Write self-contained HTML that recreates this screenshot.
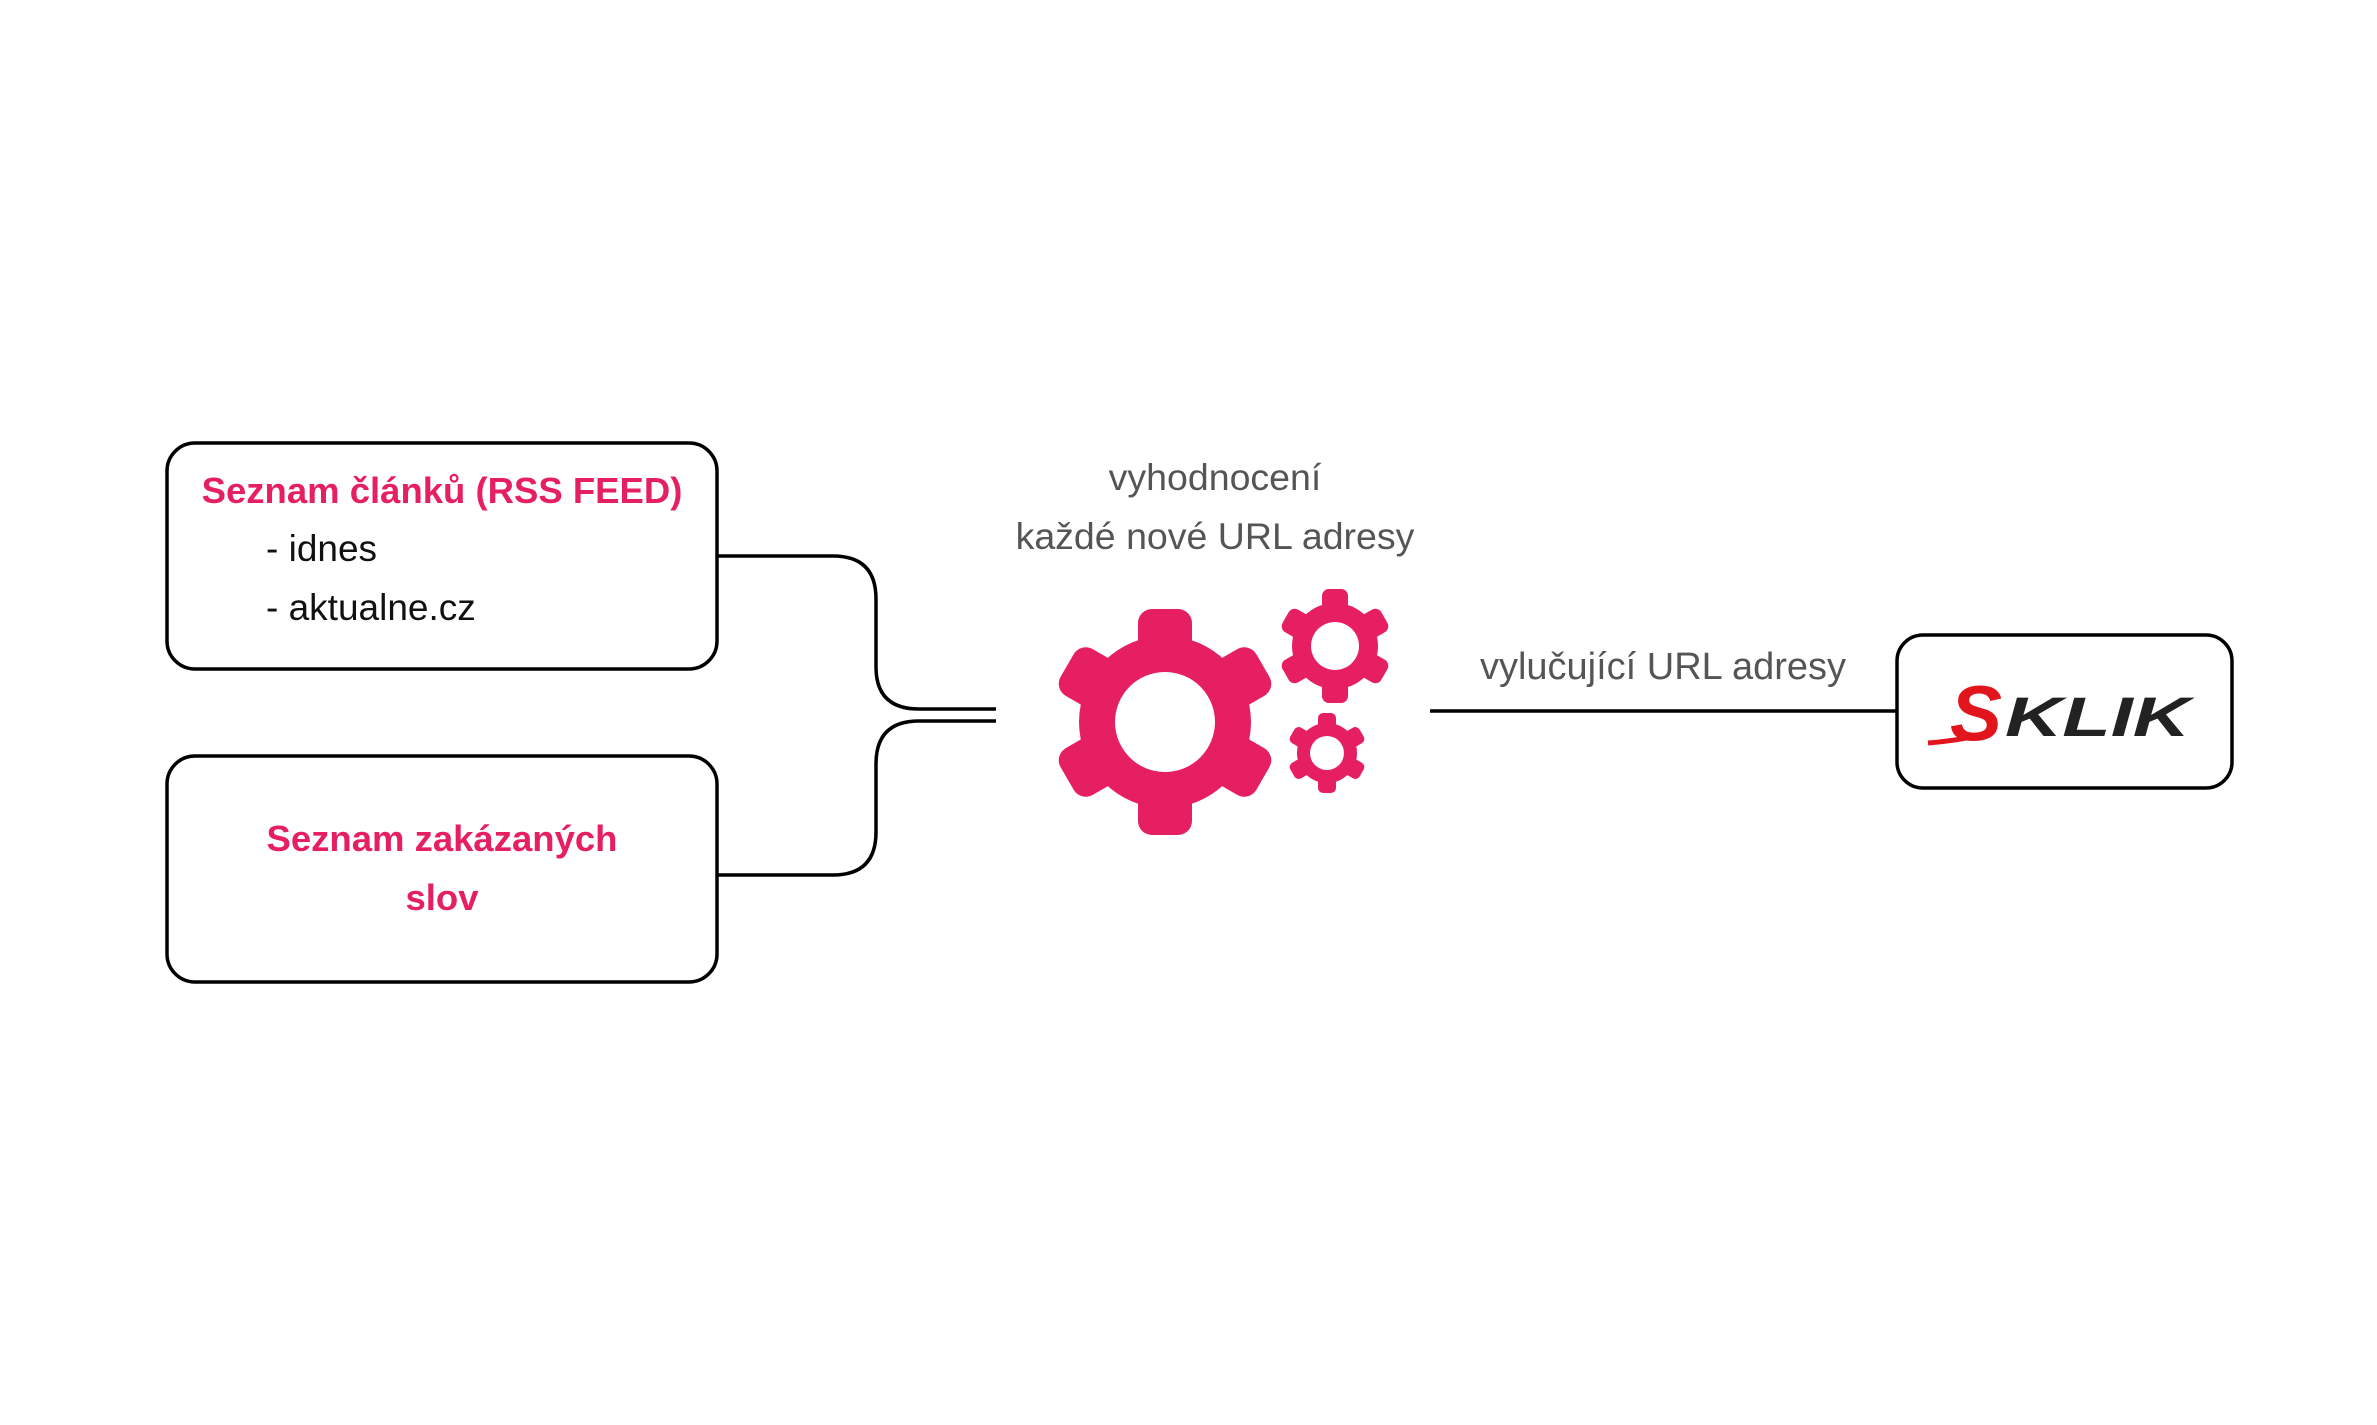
<!DOCTYPE html>
<html><head><meta charset="utf-8"><style>
html,body{margin:0;padding:0;background:#fff}
body{width:2377px;height:1425px;position:relative;overflow:hidden;font-family:"Liberation Sans",sans-serif}
</style></head><body>
<svg width="2377" height="1425" style="position:absolute;left:0;top:0">
<g fill="none" stroke="#000" stroke-width="3.5">
<rect x="167" y="443" width="550" height="226" rx="28"/>
<rect x="167" y="756" width="550" height="226" rx="28"/>
<path d="M717 556 H833 Q876 556 876 599 V667 Q876 709 919 709 H996"/>
<path d="M717 875 H833 Q876 875 876 832 V764 Q876 721 919 721 H996"/>
<path d="M1430 711 H1897"/>
<rect x="1897" y="635" width="335" height="153" rx="26"/>
</g>
<g fill="#e61e62">
<g transform="translate(1165,722)">
<circle r="86"/>
<g transform="rotate(0)"><rect x="-27" y="-113" width="54" height="50" rx="14"/></g>
<g transform="rotate(60)"><rect x="-27" y="-113" width="54" height="50" rx="14"/></g>
<g transform="rotate(120)"><rect x="-27" y="-113" width="54" height="50" rx="14"/></g>
<g transform="rotate(180)"><rect x="-27" y="-113" width="54" height="50" rx="14"/></g>
<g transform="rotate(240)"><rect x="-27" y="-113" width="54" height="50" rx="14"/></g>
<g transform="rotate(300)"><rect x="-27" y="-113" width="54" height="50" rx="14"/></g>
<circle r="50" fill="#fff"/>
</g>
<g transform="translate(1335,646)">
<circle r="43"/>
<g transform="rotate(0)"><rect x="-13" y="-57" width="26" height="25" rx="7"/></g>
<g transform="rotate(60)"><rect x="-13" y="-57" width="26" height="25" rx="7"/></g>
<g transform="rotate(120)"><rect x="-13" y="-57" width="26" height="25" rx="7"/></g>
<g transform="rotate(180)"><rect x="-13" y="-57" width="26" height="25" rx="7"/></g>
<g transform="rotate(240)"><rect x="-13" y="-57" width="26" height="25" rx="7"/></g>
<g transform="rotate(300)"><rect x="-13" y="-57" width="26" height="25" rx="7"/></g>
<circle r="24" fill="#fff"/>
</g>
<g transform="translate(1327,753)">
<circle r="30"/>
<g transform="rotate(0)"><rect x="-9" y="-40" width="18" height="18" rx="5"/></g>
<g transform="rotate(60)"><rect x="-9" y="-40" width="18" height="18" rx="5"/></g>
<g transform="rotate(120)"><rect x="-9" y="-40" width="18" height="18" rx="5"/></g>
<g transform="rotate(180)"><rect x="-9" y="-40" width="18" height="18" rx="5"/></g>
<g transform="rotate(240)"><rect x="-9" y="-40" width="18" height="18" rx="5"/></g>
<g transform="rotate(300)"><rect x="-9" y="-40" width="18" height="18" rx="5"/></g>
<circle r="17" fill="#fff"/>
</g>
</g>
<g font-family="Liberation Sans, sans-serif" text-anchor="middle">
<text x="442" y="503" font-size="36.5" font-weight="bold" fill="#e61e62">Seznam článků (RSS FEED)</text>
<text x="442" y="851" font-size="36.5" font-weight="bold" fill="#e61e62">Seznam zakázaných</text>
<text x="442" y="910" font-size="36.5" font-weight="bold" fill="#e61e62">slov</text>
<text x="1215" y="490" font-size="37.5" fill="#555">vyhodnocení</text>
<text x="1215" y="549" font-size="37.5" fill="#555">každé nové URL adresy</text>
<text x="1663" y="679" font-size="38" fill="#555">vylučující URL adresy</text>
</g>
<g font-family="Liberation Sans, sans-serif" font-size="37" fill="#111">
<text x="266" y="561">- idnes</text>
<text x="266" y="620">- aktualne.cz</text>
</g>
<g font-family="Liberation Sans, sans-serif" font-weight="bold" font-style="italic">
<text x="1950" y="740" font-size="78" fill="#e2151d">S</text>
<text x="2005" y="736" font-size="56" fill="#222" textLength="185" lengthAdjust="spacingAndGlyphs">KLIK</text>
<path d="M1928 743 Q1965 740 1992 732" stroke="#e2151d" stroke-width="5" fill="none"/>
</g>
</svg>
</body></html>
